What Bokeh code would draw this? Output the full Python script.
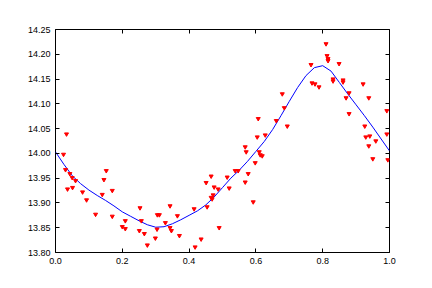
from bokeh.plotting import figure
from bokeh.models import LinearAxis, FixedTicker, NumeralTickFormatter, Range1d
from bokeh.embed import file_html
from bokeh.resources import INLINE

# scattered samples (red down-triangles)
pts_x = [0.024, 0.033, 0.030, 0.036, 0.043, 0.050, 0.051, 0.060, 0.081, 0.093,
         0.120, 0.140, 0.145, 0.152, 0.170, 0.170, 0.200, 0.209, 0.209, 0.251,
         0.253, 0.257, 0.266, 0.275, 0.299, 0.304, 0.305, 0.311, 0.329, 0.343,
         0.343, 0.347, 0.365, 0.371, 0.415, 0.418, 0.436, 0.451, 0.454, 0.466,
         0.466, 0.469, 0.472, 0.475, 0.487, 0.490, 0.514, 0.520, 0.538, 0.547,
         0.568, 0.568, 0.571, 0.577, 0.592, 0.598, 0.604, 0.607, 0.610, 0.613,
         0.619, 0.628, 0.661, 0.679, 0.685, 0.694, 0.765, 0.768, 0.777, 0.789,
         0.810, 0.813, 0.816, 0.816, 0.849, 0.831, 0.831, 0.861, 0.861, 0.879,
         0.870, 0.879, 0.921, 0.938, 0.926, 0.929, 0.941, 0.938, 0.959, 0.950,
         0.992, 0.992, 0.995]
pts_y = [13.998, 14.039, 13.967, 13.928, 13.959, 13.951, 13.931, 13.945, 13.922, 13.906,
         13.877, 13.917, 13.947, 13.965, 13.925, 13.873, 13.852, 13.864, 13.848, 13.844,
         13.890, 13.864, 13.838, 13.815, 13.829, 13.847, 13.876, 13.876, 13.860, 13.894,
         13.850, 13.844, 13.874, 13.834, 13.888, 13.811, 13.827, 13.941, 13.892, 13.954,
         13.911, 13.908, 13.916, 13.932, 13.928, 13.850, 13.952, 13.930, 13.965, 13.965,
         13.942, 14.013, 14.003, 13.959, 13.902, 13.981, 14.033, 14.070, 14.003, 13.997,
         13.995, 14.037, 14.066, 14.120, 14.092, 14.055, 14.179, 14.142, 14.140, 14.134,
         14.221, 14.197, 14.191, 14.187, 14.181, 14.150, 14.146, 14.148, 14.144, 14.122,
         14.112, 14.080, 14.140, 14.112, 14.055, 14.033, 14.035, 14.015, 14.025, 13.989,
         14.086, 14.039, 13.987]

# fitted curve (blue line)
fit_x = [0.000, 0.025, 0.050, 0.075, 0.100, 0.125, 0.150, 0.175, 0.200, 0.225,
         0.250, 0.275, 0.300, 0.325, 0.350, 0.375, 0.400, 0.425, 0.450, 0.475,
         0.500, 0.525, 0.550, 0.575, 0.600, 0.625, 0.650, 0.675, 0.700, 0.725,
         0.750, 0.775, 0.800, 0.825, 0.850, 0.875, 0.900, 0.925, 0.950, 0.975, 1.000]
fit_y = [14.003, 13.978, 13.955, 13.939, 13.926, 13.915, 13.905, 13.894, 13.882, 13.873,
         13.864, 13.856, 13.851, 13.852, 13.858, 13.866, 13.875, 13.884, 13.896, 13.912,
         13.931, 13.950, 13.966, 13.984, 14.004, 14.024, 14.048, 14.076, 14.105, 14.133,
         14.157, 14.173, 14.177, 14.166, 14.143, 14.120, 14.098, 14.076, 14.053, 14.029, 14.005]

x_ticks = [0.0, 0.2, 0.4, 0.6, 0.8, 1.0]
y_ticks = [13.80, 13.85, 13.90, 13.95, 14.00, 14.05, 14.10, 14.15, 14.20, 14.25]

FONT = "Liberation Sans"

p = figure(width=432, height=288, output_backend="svg", toolbar_location=None,
           x_range=Range1d(0.0, 1.0), y_range=Range1d(13.80, 14.25),
           x_axis_type=None, y_axis_type=None,
           min_border_left=55, min_border_right=43, min_border_top=29, min_border_bottom=36)
p.grid.visible = False
p.background_fill_color = "white"
p.border_fill_color = "white"
p.outline_line_color = "black"
p.outline_line_width = 1
p.outline_line_alpha = 1.0


def make_axis(ticks, fmt, show_labels):
    ax = LinearAxis(ticker=FixedTicker(ticks=ticks),
                    formatter=NumeralTickFormatter(format=fmt))
    ax.axis_line_color = None
    ax.major_tick_in = 4
    ax.major_tick_out = 0
    ax.major_tick_line_color = "black"
    ax.minor_tick_line_color = None
    ax.major_label_text_font = FONT
    ax.major_label_text_font_size = "9px"
    ax.major_label_text_color = "black"
    ax.major_label_standoff = 5
    if not show_labels:
        ax.major_label_text_font_size = "0px"
        ax.major_label_text_alpha = 0
    return ax

p.add_layout(make_axis(x_ticks, "0.0", True), "below")
p.add_layout(make_axis(y_ticks, "0.00", True), "left")
p.add_layout(make_axis(x_ticks, "0.0", False), "above")
p.add_layout(make_axis(y_ticks, "0.00", False), "right")

p.line(fit_x, fit_y, line_color="#0000ff", line_width=1)
p.scatter(pts_x, pts_y, marker="inverted_triangle", size=4,
          fill_color="#ff0000", line_color="#ff0000")

open("out.html", "w").write(file_html(p, INLINE))
